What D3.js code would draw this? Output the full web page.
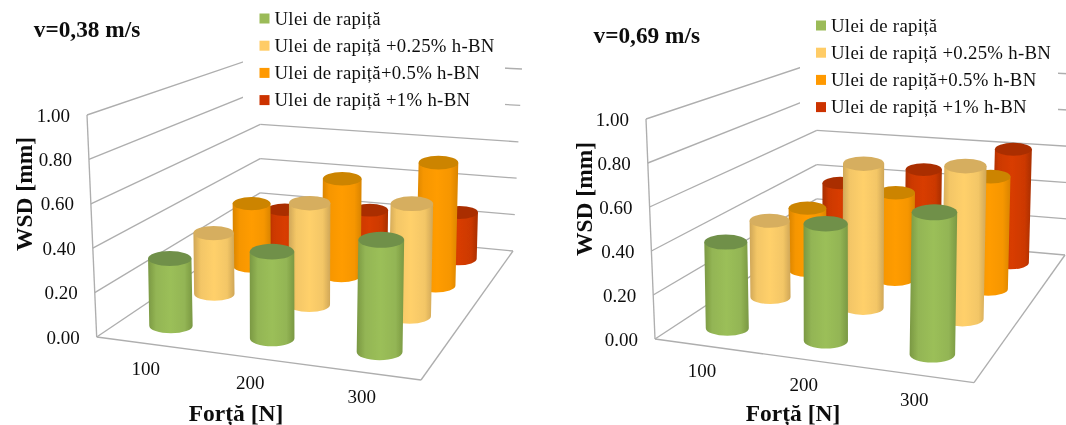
<!DOCTYPE html>
<html><head><meta charset="utf-8">
<script src="https://cdn.jsdelivr.net/npm/d3@7"></script>
<style>html,body{margin:0;background:#fff;overflow:hidden}text{font-family:"Liberation Serif",serif;fill:#111}</style>
</head><body><svg id="c" width="1066" height="425"></svg>
<script>
const categories = ["100","200","300"];
const seriesNames = ["Ulei de rapiță","Ulei de rapiță +0.25% h-BN","Ulei de rapiță+0.5% h-BN","Ulei de rapiță +1% h-BN"];
const tickValues = [0,0.2,0.4,0.6,0.8,1];
const valuesSlow = [[0.31,0.39,0.49],[0.30,0.49,0.53],[0.33,0.50,0.62],[0.18,0.22,0.25]];
const valuesFast = [[0.40,0.53,0.625],[0.38,0.70,0.725],[0.33,0.45,0.57],[0.36,0.47,0.615]];
const sideColors = ["#9bbf59","#ffd06b","#ff9c00","#d83c00"];
const edgeColors = ["#7a9843","#cfa657","#d98400","#a82e00"];
const topColors = ["#70904a","#d6ae5f","#cc8400","#aa2f00"];
const swatchColors = ["#9bbb59","#ffcc66","#ff9900","#cc3300"];

const views = [
 {title:"v=0,38 m/s",tx:33.8,ty:37,values:valuesSlow,vp:[286,4840],
  floor:[[96.7,337],[421,380],[513,251],[260,227]],roof:[[87,115],[428.3,138],[522,69],[260.5,56]],
  cover:[243,0,262,120],legendX:259.5,legendY:18.5,titleX:236,titleY:421,axisX:32,axisY:194},
 {title:"v=0,69 m/s",tx:593.5,ty:43,values:valuesFast,vp:[839,4823],
  floor:[[655,339],[974,382.7],[1065,255],[816.5,233]],roof:[[646,119],[981.3,142],[1074,74],[817,62]],
  cover:[800,0,258,126],legendX:816,legendY:25.5,titleX:793,titleY:421,axisX:592,axisY:199}
];
const barLean = 0.7;
function quad(q){
  const [[x0,y0],[x1,y1],[x2,y2],[x3,y3]]=q;
  const dx1=x1-x2,dx2=x3-x2,sx=x0-x1+x2-x3,dy1=y1-y2,dy2=y3-y2,sy=y0-y1+y2-y3;
  const den=dx1*dy2-dx2*dy1,g=(sx*dy2-dx2*sy)/den,h=(dx1*sy-sx*dy1)/den;
  const a=x1-x0+g*x1,b=x3-x0+h*x3,d=y1-y0+g*y1,e=y3-y0+h*y3;
  return (u,v)=>{const w=g*u+h*v+1;return [(a*u+b*v+x0)/w,(d*u+e*v+y0)/w];};
}
const svg=d3.select("#c");
const defs=svg.append("defs");
sideColors.forEach((c,i)=>{
  const g=defs.append("linearGradient").attr("id","g"+i);
  [[0,edgeColors[i]],[.18,d3.interpolateRgb(edgeColors[i],c)(.75)],[.5,c],[.82,d3.interpolateRgb(edgeColors[i],c)(.75)],[1,edgeColors[i]]]
   .forEach(s=>g.append("stop").attr("offset",s[0]).attr("stop-color",s[1]));
});
const blur=defs.append("filter").attr("id","soft");
blur.append("feGaussianBlur").attr("stdDeviation",0.35);

views.forEach(V=>{
  const root=svg.append("g").attr("filter","url(#soft)");
  const F=quad(V.floor),R=quad(V.roof);
  const y=d3.scaleLinear().domain([0,1]).range([0,1]);
  const uS=d3.scaleBand().domain(categories).range([0,1]);
  const vS=d3.scaleBand().domain(seriesNames).range([0,1]);
  const P=(u,v,t)=>{const a=F(u,v),b=R(u,v),k=y(t);return [a[0]+(b[0]-a[0])*k,a[1]+(b[1]-a[1])*k];};
  const line=(a,b)=>root.append("line").attr("x1",a[0]).attr("y1",a[1]).attr("x2",b[0]).attr("y2",b[1]).attr("stroke","#aeaeae").attr("stroke-width",1.35);
  tickValues.forEach(t=>{
    line(P(0,0,t),P(0,1,t));
    line(P(0,1,t),P(1,1,t));
  });
  line(P(0,0,0),P(0,0,1));
  line(P(0,0,0),P(1,0,0));
  line(P(1,0,0),P(1,1,0));
  root.append("rect").attr("x",V.cover[0]).attr("y",V.cover[1]).attr("width",V.cover[2]).attr("height",V.cover[3]).attr("fill","#fff");

  tickValues.forEach(t=>{
    const p=P(0,0,t);
    root.append("text").attr("x",p[0]-17).attr("y",p[1]+6.5).attr("text-anchor","end").attr("font-size",19).text(d3.format(".2f")(t));
  });
  categories.forEach(c=>{
    const p=F(uS(c)+uS.bandwidth()/2,0);
    root.append("text").attr("x",p[0]-1).attr("y",p[1]+31).attr("text-anchor","middle").attr("font-size",19).text(c);
  });
  root.append("text").attr("transform",`translate(${V.axisX},${V.axisY}) rotate(-90)`).attr("text-anchor","middle").attr("font-size",23.5).attr("font-weight","bold").text("WSD [mm]");
  root.append("text").attr("x",V.titleX).attr("y",V.titleY).attr("text-anchor","middle").attr("font-size",23.5).attr("font-weight","bold").text("Forță [N]");
  root.append("text").attr("x",V.tx).attr("y",V.ty).attr("font-size",23.3).attr("font-weight","bold").text(V.title);

  seriesNames.forEach((s,i)=>{
    const yy=V.legendY+i*27.2;
    root.append("rect").attr("x",V.legendX).attr("y",yy-5).attr("width",10).attr("height",10).attr("fill",swatchColors[i]);
    root.append("text").attr("x",V.legendX+15).attr("y",yy+6).attr("font-size",18.8).attr("letter-spacing",0.3).text(s);
  });

  d3.range(3,-1,-1).forEach(si=>{
    const v=vS(seriesNames[si])+vS.bandwidth()/2;
    categories.forEach((c,ci)=>{
      const u=uS(c)+uS.bandwidth()/2, val=V.values[si][ci];
      const b=P(u,v,0),t0=P(u,v,val),top1=P(u,v,1);
      const t=[b[0]+barLean*(b[0]-V.vp[0])*(b[1]-t0[1])/(V.vp[1]-b[1]),t0[1]];
      const unit=b[1]-top1[1],rx=unit*0.1,ry=unit*0.035;
      root.append("path").attr("fill",`url(#g${si})`)
       .attr("d",`M${b[0]-rx},${b[1]}A${rx},${ry} 0 0 0 ${b[0]+rx},${b[1]}L${t[0]+rx},${t[1]}L${t[0]-rx},${t[1]}Z`);
      root.append("ellipse").attr("cx",t[0]).attr("cy",t[1]).attr("rx",rx).attr("ry",ry).attr("fill",topColors[si]);
    });
  });
});
</script></body></html>
